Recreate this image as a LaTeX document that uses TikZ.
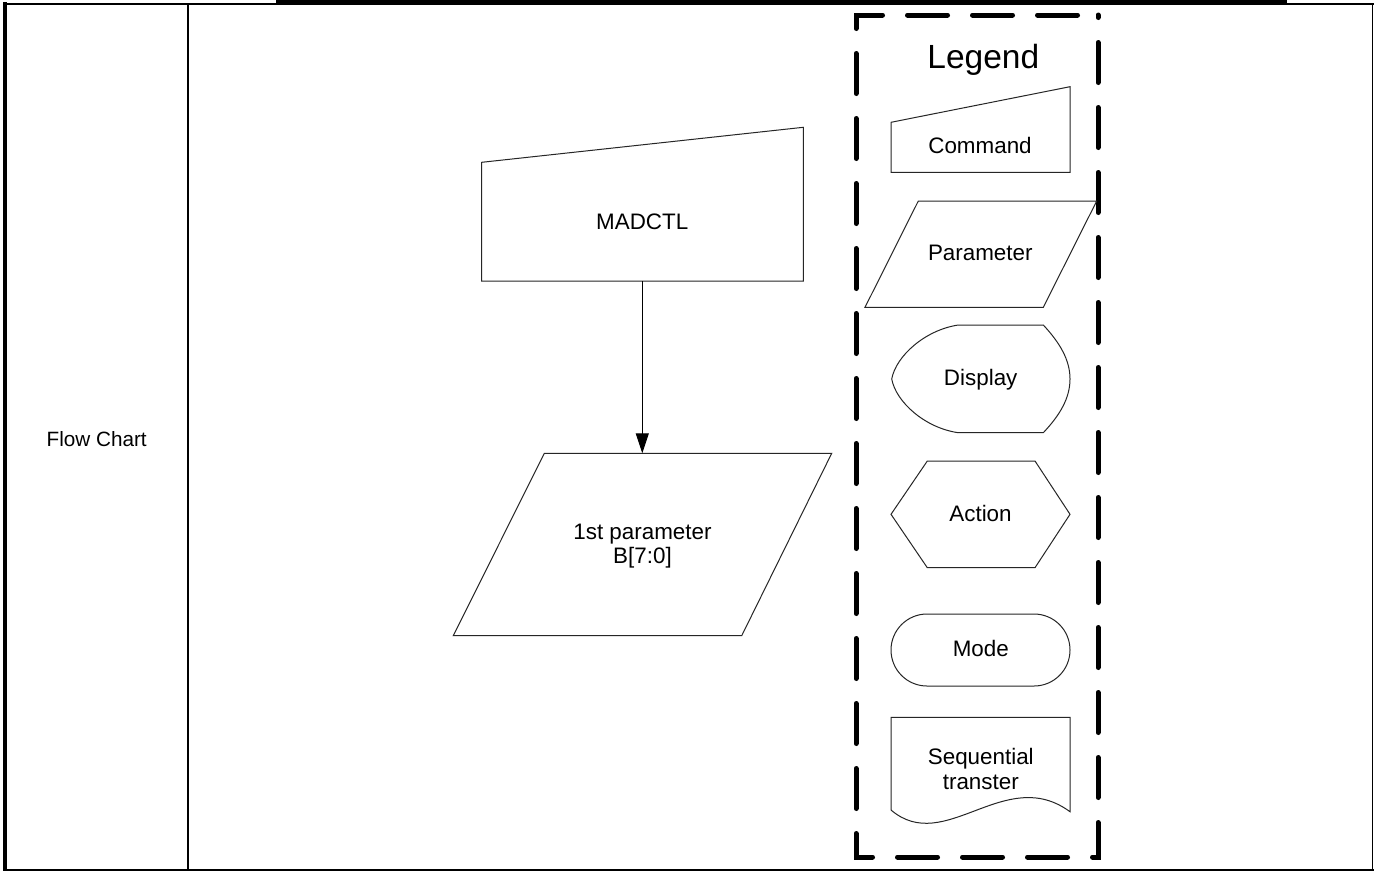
\documentclass[tikz,border=0pt]{standalone}
\usepackage{fontspec}
\setmainfont{Liberation Sans}
\usetikzlibrary{arrows.meta}
\begin{document}
\begin{tikzpicture}[x=1pt,y=-1pt,
  shapeline/.style={draw=black!85, line width=1pt, line join=miter},
  lbl/.style={anchor=base, inner sep=0pt, font=\fontsize{22.4}{26}\selectfont},
  tabline/.style={draw=black},
  legendframe/.style={draw=black, line width=5pt, line cap=round, dash pattern=on 40pt off 25pt, dash phase=44.5pt},
  flowarrow/.style={draw=black, line width=1pt, -{Triangle[length=20pt,width=13pt]}}]
\useasboundingbox (0,0) rectangle (1380,871);
\fill[white] (0,0) rectangle (1380,871);

% table frame
\fill[black] (276,0) rectangle (1287,4.5);
\draw[tabline, line width=1.6pt] (3,4) -- (1374,4);
\draw[tabline, line width=4pt] (4.7,2) -- (4.7,871);
\draw[tabline, line width=1.8pt] (1372.5,4) -- (1372.5,870.5);
\draw[tabline, line width=1.6pt] (3,870) -- (1374,870);
\draw[tabline, line width=2.2pt] (187.8,4) -- (187.8,870);

\node[lbl, font=\fontsize{20.7}{24}\selectfont] (flowchart) at (96.7,446) {Flow Chart};

% main flow
\draw[shapeline] (481.7,162.3) -- (803.3,127.3) -- (803.3,281) -- (481.7,281) -- cycle;
\node[lbl] (madctl) at (642.2,229) {MADCTL};
\coordinate (madctlbottom) at (642.3,281);

\draw[shapeline] (544.3,453.3) -- (831.7,453.3) -- (741.7,635.7) -- (453.3,635.7) -- cycle;
\coordinate (paramtop) at (642.3,453.3);
\node[lbl] (param1) at (642.5,539) {1st parameter};
\node[lbl] (param2) at (642.5,563.3) {B[7:0]};

\draw[flowarrow] (madctlbottom) -- (paramtop);

% legend frame
\draw[legendframe] (1098,15) -- (856,15) -- (856,857) -- (1098,857) -- cycle;
\node[lbl, font=\fontsize{33.5}{38}\selectfont] (legend) at (983.3,68.3) {Legend};

% command
\draw[shapeline] (891,122.3) -- (1070,86.7) -- (1070,172.3) -- (891,172.3) -- cycle;
\node[lbl] (command) at (980,153.3) {Command};

% parameter
\draw[shapeline] (918.3,201) -- (1096.7,201) -- (1043.3,307.3) -- (865,307.3) -- cycle;
\node[lbl] (parameter) at (980.3,260.7) {Parameter};

% display
\draw[shapeline] (958.3,325) -- (1043.3,325)
  .. controls (1060,343) and (1070,360) .. (1070,379)
  .. controls (1070,398) and (1060,415) .. (1043.3,432.7)
  -- (958.3,432.7)
  .. controls (925,428) and (896,402) .. (891.7,379)
  .. controls (896,356) and (925,330) .. (958.3,325) -- cycle;
\node[lbl] (display) at (980.7,385) {Display};

% action
\draw[shapeline] (927.3,461) -- (1035,461) -- (1070,514.3) -- (1035,567.7) -- (927.3,567.7) -- (891,514.3) -- cycle;
\node[lbl] (action) at (980.5,521.7) {Action};

% mode
\draw[shapeline, rounded corners=36pt] (891,614) rectangle (1070,686);
\node[lbl] (mode) at (980.8,656.7) {Mode};

% sequential transfer (document)
\draw[shapeline] (891,717.3) -- (1070,717.3) -- (1070,811.7)
  .. controls (1005,764) and (945,856) .. (891,810) -- cycle;
\node[lbl] (seq1) at (980.8,764) {Sequential};
\node[lbl] (seq2) at (980.8,789) {transter};
\end{tikzpicture}
\end{document}
